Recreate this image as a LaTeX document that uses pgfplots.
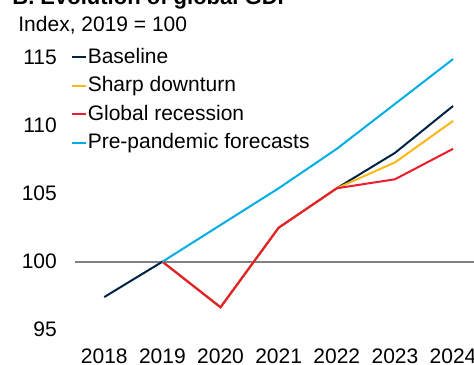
\documentclass[border=0pt]{standalone}
\usepackage{pgfplots}
\pgfplotsset{compat=1.18}
\usepackage{fontspec}
\setmainfont{Liberation Sans}
\definecolor{cBase}{RGB}{0,35,69}
\definecolor{cSharp}{RGB}{253,183,20}
\definecolor{cRec}{RGB}{235,28,45}
\definecolor{cPre}{RGB}{0,173,228}
\definecolor{cGrid}{RGB}{128,128,128}
\begin{document}
\fontsize{10.5pt}{12pt}\selectfont
\begin{tikzpicture}
\begin{axis}[
  scale only axis,
  width=199.4pt, height=136pt,
  xmin=2017.5, xmax=2024.36,
  ymin=95, ymax=115,
  axis line style={draw=none},
  major tick length=0pt,
  xtick={2018,2019,2020,2021,2022,2023,2024},
  ytick={95,100,105,110,115},
  /pgf/number format/assume math mode=true,
  /pgf/number format/set thousands separator={},
  every tick label/.append style={inner sep=0pt, font=\fontsize{10.5pt}{12pt}\selectfont},
  yticklabel style={xshift=-9pt},
  xticklabel style={yshift=-9.5pt},
  clip=false,
  legend style={draw=none, fill=none, at={(rel axis cs:0,1)}, anchor=north west,
    xshift=-2.2pt, yshift=5.5pt, row sep=4.3pt, inner sep=0pt,
    font=\fontsize{10.5pt}{12pt}\selectfont,
    nodes={inner sep=0.4pt}},
  legend cell align=left,
  legend image code/.code={\draw[#1, line width=0.9pt] (0pt,0pt) -- (7pt,0pt);},
]
\addplot[cGrid, line width=1pt, forget plot] coordinates {(2017.5,100) (2024.36,100)};
\addplot[cBase, line width=1pt] coordinates {(2018,97.4) (2019,100) (2020,96.65) (2021,102.5) (2022,105.4) (2023,108.0) (2024,111.45)};
\addplot[cSharp, line width=1pt] coordinates {(2019,100) (2020,96.65) (2021,102.5) (2022,105.4) (2023,107.3) (2024,110.35)};
\addplot[cRec, line width=1pt] coordinates {(2019,100) (2020,96.65) (2021,102.5) (2022,105.4) (2023,106.06) (2024,108.3)};
\addplot[cPre, line width=1pt] coordinates {(2019,100) (2020,102.7) (2021,105.4) (2022,108.3) (2023,111.6) (2024,114.9)};
\legend{Baseline, Sharp downturn, Global recession, Pre-pandemic forecasts}
\coordinate (SW) at (rel axis cs:0,0);
\coordinate (NE) at (rel axis cs:1,1);
\node[anchor=base west, inner sep=0pt] at ([xshift=-28.6pt, yshift=13pt]rel axis cs:0,1) {Index, 2019 = 100};
\node[anchor=base west, inner sep=0pt, font=\fontsize{11pt}{13pt}\selectfont\bfseries] at ([xshift=-31.6pt, yshift=26.8pt]rel axis cs:0,1) {B. Evolution of global GDP};
\end{axis}
\pgfresetboundingbox
\path ([xshift=-37.6pt, yshift=-17.15pt]SW) rectangle ([yshift=28.85pt]NE);
\end{tikzpicture}
\end{document}
